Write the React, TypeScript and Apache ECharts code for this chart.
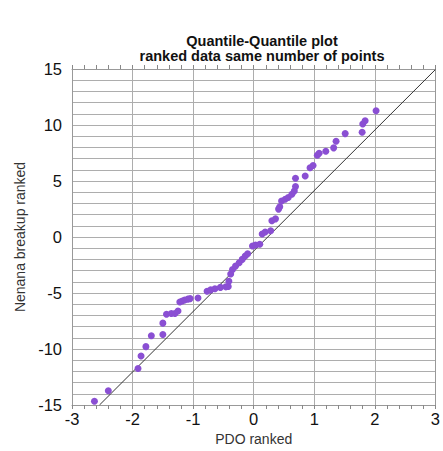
import React, { useEffect, useRef } from "react";
import * as echarts from "echarts";

const pdoRanked = [
  -2.63, -2.4, -1.91, -1.86, -1.78, -1.69, -1.5, -1.5, -1.44, -1.36, -1.3, -1.25,
  -1.22, -1.18, -1.14, -1.09, -1.05, -0.92, -0.77, -0.71, -0.64, -0.55, -0.46, -0.42,
  -0.41, -0.38, -0.35, -0.3, -0.24, -0.19, -0.14, -0.1, -0.02, 0.03, 0.1, 0.14,
  0.19, 0.28, 0.3, 0.36, 0.41, 0.43, 0.46, 0.52, 0.57, 0.63, 0.67, 0.69,
  0.69, 0.85, 0.93, 0.98, 1.05, 1.08, 1.19, 1.32, 1.36, 1.51, 1.79, 1.8, 1.84, 2.02,
];
const nenanaRanked = [
  -14.67, -13.73, -11.74, -10.62, -9.79, -8.81, -8.7, -7.69, -6.9, -6.83, -6.83, -6.6,
  -5.8, -5.71, -5.62, -5.55, -5.5, -5.45, -4.85, -4.72, -4.62, -4.5, -4.45, -4.42,
  -3.95, -3.3, -2.9, -2.6, -2.3, -2.0, -1.7, -1.5, -0.8, -0.72, -0.65, 0.27,
  0.45, 0.56, 1.45, 1.62, 2.49, 2.7, 3.22, 3.37, 3.52, 3.82, 4.11, 4.5,
  5.25, 5.45, 6.19, 6.39, 7.3, 7.48, 7.66, 7.96, 8.55, 9.23, 9.35, 10.09, 10.38, 11.27,
];
const fitLineX = [-2.546, 3];
const fitLineY = [-15, 14.95];
const yLabelValues = [-15, -10, -5, 0, 5, 10, 15];

export default function App() {
  const ref = useRef<HTMLDivElement>(null);
  useEffect(() => {
    if (!ref.current) return;
    const chart = echarts.init(ref.current, null, { renderer: "svg" });
    const font = "Liberation Sans, Arial, Helvetica, sans-serif";
    const gridColor = "#adadad";
    const xCommon = {
      type: "value" as const,
      min: -3,
      max: 3,
      interval: 1,
      axisLine: { show: true, onZero: false, lineStyle: { color: "#999", width: 1 } },
      axisTick: { show: true, length: 4, lineStyle: { color: "#888" } },
      minorTick: { show: true, splitNumber: 5, length: 4, lineStyle: { color: "#888" } },
    };
    chart.setOption({
      animation: false,
      title: {
        text: "Quantile-Quantile plot\nranked data same number of points",
        left: 257,
        top: 29,
        textAlign: "center",
        textStyle: {
          fontFamily: font,
          fontSize: 14.5,
          fontWeight: "bold",
          color: "#111",
          lineHeight: 14.5,
        },
      },
      grid: { left: 72, right: 5, top: 69, bottom: 44 },
      xAxis: [
        {
          ...xCommon,
          position: "bottom",
          name: "PDO ranked",
          nameLocation: "middle",
          nameGap: 27,
          nameTextStyle: { fontFamily: font, fontSize: 14, color: "#333" },
          axisLabel: { fontFamily: font, fontSize: 16.5, color: "#111", margin: 5 },
          splitLine: { show: true, lineStyle: { color: gridColor, width: 1 } },
        },
        {
          ...xCommon,
          position: "top",
          axisLabel: { show: false },
          splitLine: { show: false },
        },
      ],
      yAxis: [
        {
          type: "value",
          min: -15,
          max: 15,
          interval: 1,
          name: "Nenana breakup ranked",
          nameLocation: "middle",
          nameGap: 45,
          nameTextStyle: { fontFamily: font, fontSize: 14, color: "#333" },
          axisLine: { show: true, onZero: false, lineStyle: { color: "#999" } },
          axisTick: { show: false },
          axisLabel: {
            fontFamily: font,
            fontSize: 16.5,
            color: "#111",
            margin: 10,
            formatter: (v: number) => (yLabelValues.includes(v) ? String(v) : ""),
          },
          splitLine: { show: true, lineStyle: { color: gridColor, width: 1 } },
        },
        {
          type: "value",
          min: -15,
          max: 15,
          position: "right",
          axisLine: { show: true, onZero: false, lineStyle: { color: "#999" } },
          axisTick: { show: false },
          axisLabel: { show: false },
          splitLine: { show: false },
        },
      ],
      series: [
        {
          type: "line",
          data: fitLineX.map((x, i) => [x, fitLineY[i]]),
          symbol: "none",
          lineStyle: { color: "#333", width: 1 },
          silent: true,
          z: 2,
        },
        {
          type: "scatter",
          data: pdoRanked.map((x, i) => [x, nenanaRanked[i]]),
          symbolSize: 7,
          itemStyle: { color: "#8a4fd3", opacity: 1 },
          z: 3,
        },
      ],
    });
    return () => chart.dispose();
  }, []);
  return (
    <div
      ref={ref}
      style={{ position: "fixed", left: 0, top: 0, width: 443, height: 451, background: "#fff" }}
    />
  );
}
